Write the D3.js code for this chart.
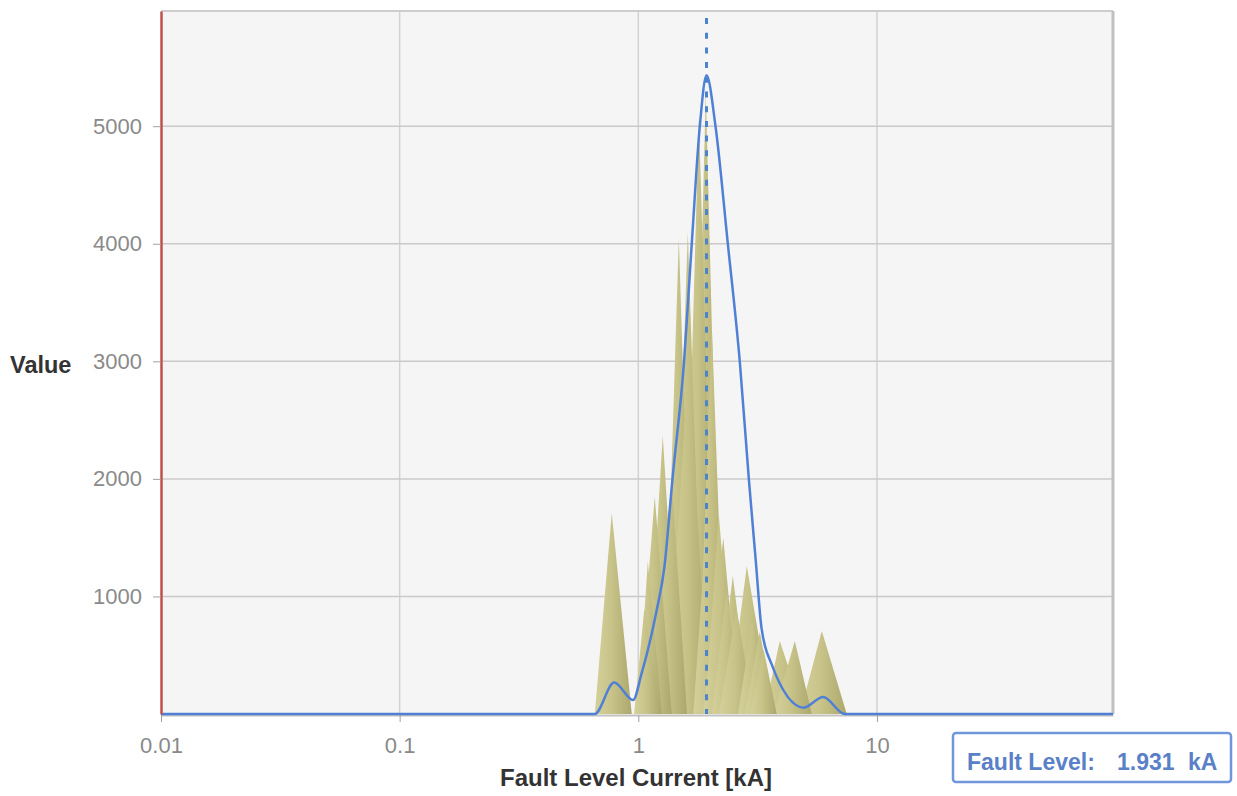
<!DOCTYPE html>
<html>
<head>
<meta charset="utf-8">
<script src="https://cdn.jsdelivr.net/npm/d3@7"></script>
<style>
  body { margin: 0; background: #fff; }
  svg text { font-family: "Liberation Sans", Arial, sans-serif; }
</style>
</head>
<body>
<div id="chart"></div>
<script>
// Fault level distribution chart (log x axis)

const faultLevel = 1.931
const xTicks = [0.01, 0.1, 1, 10]
const yTicks = [1000, 2000, 3000, 4000, 5000]
const xTitle = "Fault Level Current [kA]"
const yTitle = "Value"

// smoothed distribution (blue line)
const curveCurrent = [0.01, 0.657, 0.792, 0.951, 1.031, 1.192, 1.285, 1.391, 1.555, 1.675, 1.810, 1.931,
  2.106, 2.371, 2.662, 2.904, 3.106, 3.282, 3.614, 4.935, 5.946, 7.33, 97.5]
const curveValue = [0, 0, 267, 119, 341, 877, 1244, 2002, 2998, 4003, 5000, 5434,
  5000, 4003, 2998, 2002, 1303, 733, 426, 54, 145, 0, 0]

// raw peaks (olive area): foot, apex, foot in kA, and apex value
const peakStart = [0.657, 0.995, 0.995, 1.075, 1.279, 1.381, 1.520, 1.644, 1.776, 1.899, 2.032, 2.113, 2.371, 2.794, 3.356, 3.696, 4.749,
  0.960, 1.120, 1.310, 1.700, 1.870, 2.180, 2.620, 2.940]
const peakTop   = [0.774, 1.096, 1.172, 1.266, 1.478, 1.612, 1.795, 1.918, 2.032, 2.174, 2.349, 2.489, 2.848, 3.229, 3.916, 4.526, 5.874,
  1.060, 1.380, 1.620, 2.020, 2.270, 2.580, 3.000, 3.350]
const peakEnd   = [0.939, 1.255, 1.381, 1.492, 1.708, 1.881, 2.113, 2.238, 2.326, 2.537, 2.714, 2.932, 3.626, 3.732, 4.935, 5.333, 7.470,
  1.240, 1.600, 1.980, 2.380, 2.650, 3.050, 3.480, 3.800]
const peakValue = [1710, 1300, 1850, 2370, 4050, 4100, 5080, 5290, 3300, 1700, 1050, 1175, 1260, 700, 620, 620, 705,
  900, 2000, 3000, 2200, 1500, 900, 800, 550]

const width = 1237
const height = 796
const margin = { top: 11, right: 124, bottom: 82, left: 161 }
const innerW = width - margin.left - margin.right
const innerH = height - margin.top - margin.bottom

const svg = d3.select("#chart")
  .append("svg")
  .attr("width", width)
  .attr("height", height)

const x = d3.scaleLog()
  .domain([0.01, 97.5])
  .range([margin.left, margin.left + innerW])

const y = d3.scaleLinear()
  .domain([0, 5980])
  .range([margin.top + innerH, margin.top])

// plot background
svg.append("rect")
  .attr("x", margin.left)
  .attr("y", margin.top)
  .attr("width", innerW)
  .attr("height", innerH)
  .attr("fill", "#f5f5f5")

// grid
svg.append("g")
  .selectAll("line")
  .data(xTicks.slice(1))
  .join("line")
  .attr("x1", d => x(d)).attr("x2", d => x(d))
  .attr("y1", margin.top).attr("y2", margin.top + innerH)
  .attr("stroke", "#d2d2d2")
  .attr("stroke-width", 1.5)

svg.append("g")
  .selectAll("line")
  .data(yTicks)
  .join("line")
  .attr("x1", margin.left).attr("x2", margin.left + innerW)
  .attr("y1", d => y(d)).attr("y2", d => y(d))
  .attr("stroke", "#cacaca")
  .attr("stroke-width", 1.5)

// top and right frame
svg.append("line")
  .attr("x1", margin.left).attr("x2", margin.left + innerW)
  .attr("y1", margin.top).attr("y2", margin.top)
  .attr("stroke", "#cdcdcd").attr("stroke-width", 2)
svg.append("line")
  .attr("x1", margin.left + innerW).attr("x2", margin.left + innerW)
  .attr("y1", margin.top).attr("y2", margin.top + innerH)
  .attr("stroke", "#c0c0c0").attr("stroke-width", 3)

// olive gradient
const defs = svg.append("defs")
const grad = defs.append("linearGradient")
  .attr("id", "olive")
  .attr("x1", "0%").attr("x2", "100%")
  .attr("y1", "0%").attr("y2", "0%")
grad.append("stop").attr("offset", "0%").attr("stop-color", "#d3d09a")
grad.append("stop").attr("offset", "45%").attr("stop-color", "#c8c389")
grad.append("stop").attr("offset", "100%").attr("stop-color", "#aca76c")

const peaks = peakValue.map((v, i) => ({
  points: [[peakStart[i], 0], [peakTop[i], v], [peakEnd[i], 0]],
  value: v
})).sort((a, b) => b.value - a.value)

const peakArea = d3.area()
  .x(d => x(d[0]))
  .y0(y(0))
  .y1(d => y(d[1]))

svg.append("g")
  .selectAll("path")
  .data(peaks)
  .join("path")
  .attr("d", d => peakArea(d.points))
  .attr("fill", "url(#olive)")

// bottom axis
const xAxis = svg.append("g")
  .attr("transform", `translate(0,${margin.top + innerH + 1})`)
  .call(d3.axisBottom(x)
    .tickValues(xTicks)
    .tickFormat(d => String(d))
    .tickSize(7)
    .tickSizeOuter(0)
    .tickPadding(15))
xAxis.select(".domain").attr("stroke", "#c2c2c2").attr("stroke-width", 2)
xAxis.selectAll(".tick line").attr("stroke", "#a0a0a0")
xAxis.selectAll("text")
  .attr("fill", "#8a8a8a")
  .style("font-size", "22px")

// smoothed line
const curveData = curveCurrent.map((c, i) => [c, curveValue[i]])
svg.append("path")
  .datum(curveData)
  .attr("fill", "none")
  .attr("stroke", "#4f80d6")
  .attr("stroke-width", 2.5)
  .attr("d", d3.line()
    .x(d => x(d[0]))
    .y(d => y(d[1]))
    .curve(d3.curveMonotoneX))

// fault level marker
svg.append("line")
  .attr("x1", x(faultLevel)).attr("x2", x(faultLevel))
  .attr("y1", margin.top + 7).attr("y2", y(0))
  .attr("stroke", "#4a84cc")
  .attr("stroke-width", 3)
  .attr("stroke-dasharray", "6 8.7")

// left axis
const yAxis = svg.append("g")
  .attr("transform", `translate(${margin.left},0)`)
  .call(d3.axisLeft(y)
    .tickValues(yTicks)
    .tickFormat(d3.format("d"))
    .tickSize(8)
    .tickSizeOuter(0)
    .tickPadding(11))
yAxis.select(".domain").attr("stroke", "#c0504d").attr("stroke-width", 2.5)
yAxis.selectAll(".tick line").attr("stroke", "#a0a0a0")
yAxis.selectAll("text")
  .attr("fill", "#8a8a8a")
  .style("font-size", "22px")

// titles
svg.append("text")
  .attr("x", 10)
  .attr("y", 373)
  .attr("fill", "#333")
  .style("font-size", "23.5px")
  .style("font-weight", "bold")
  .text(yTitle)

svg.append("text")
  .attr("x", 636)
  .attr("y", 786)
  .attr("text-anchor", "middle")
  .attr("fill", "#333")
  .style("font-size", "24px")
  .style("font-weight", "bold")
  .text(xTitle)

// fault level box
const box = svg.append("g")
box.append("rect")
  .attr("x", 953).attr("y", 733)
  .attr("width", 278).attr("height", 49)
  .attr("rx", 3)
  .attr("fill", "#fff")
  .attr("stroke", "#7096dc")
  .attr("stroke-width", 2.5)
box.append("text")
  .attr("x", 967).attr("y", 770)
  .attr("fill", "#5a80c8")
  .style("font-size", "23px")
  .style("font-weight", "bold")
  .text("Fault Level:")
box.append("text")
  .attr("x", 1117).attr("y", 770)
  .attr("fill", "#5a80c8")
  .style("font-size", "23px")
  .style("font-weight", "bold")
  .text(faultLevel.toFixed(3))
box.append("text")
  .attr("x", 1188).attr("y", 770)
  .attr("fill", "#5a80c8")
  .style("font-size", "23px")
  .style("font-weight", "bold")
  .text("kA")
</script>
</body>
</html>
